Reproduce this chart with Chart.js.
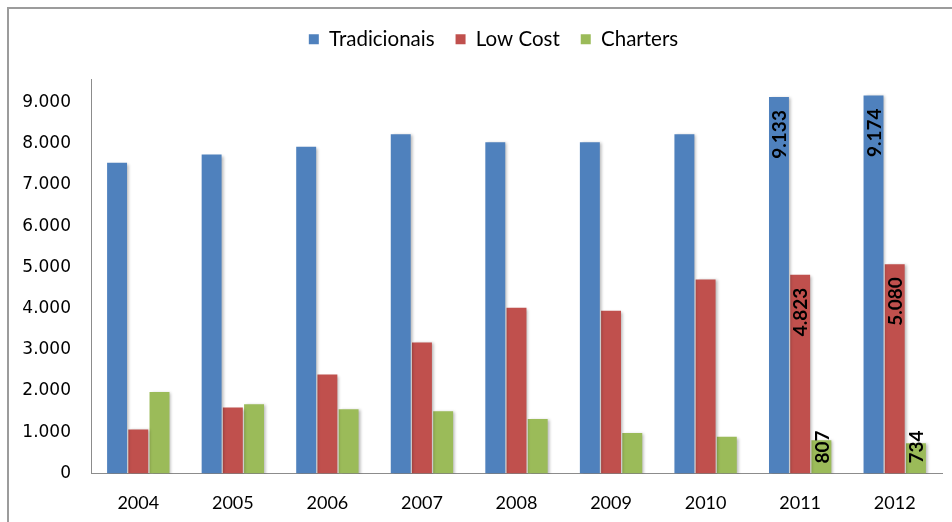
<!DOCTYPE html>
<html>
<head>
<meta charset="utf-8">
<script src="https://cdn.jsdelivr.net/npm/chart.js@4/dist/chart.umd.min.js"></script>
<style>
    html, body { margin: 0; padding: 0; background: #fff; }
    #wrap { position: relative; width: 952px; height: 522px; }
</style>
</head>
<body>
<div id="wrap"><canvas id="passChart" width="952" height="522"></canvas></div>
<script>
const years        = ['2004', '2005', '2006', '2007', '2008', '2009', '2010', '2011', '2012'];
const tradicionais = [7540, 7740, 7930, 8230, 8040, 8040, 8230, 9133, 9174];
const lowCost      = [1070, 1600, 2400, 3180, 4020, 3950, 4710, 4823, 5080];
const charters     = [1975, 1680, 1560, 1510, 1320, 980, 890, 807, 734];
const yTicks       = [0, 1000, 2000, 3000, 4000, 5000, 6000, 7000, 8000, 9000];
const labeledYears = ['2011', '2012'];

const fmt = v => String(Math.round(v)).replace(/\B(?=(\d{3})+(?!\d))/g, '.');

// grey frame on the top and left edges of the figure
const framePlugin = {
    id: 'frame',
    beforeDraw(chart) {
        const ctx = chart.ctx;
        ctx.save();
        ctx.lineWidth = 2;
        ctx.strokeStyle = '#9c9c9c';
        ctx.beginPath();
        ctx.moveTo(7, 8); ctx.lineTo(952, 8);
        ctx.moveTo(8, 7); ctx.lineTo(8, 522);
        ctx.stroke();
        ctx.restore();
    },
};

// legend: extra room underneath and centred over the plot, not the canvas
const legendTweak = {
    id: 'legendTweak',
    afterInit(chart) {
        const legend = chart.legend;
        const fit = legend.fit;
        legend.fit = function () {
            fit.call(this);
            this.height += 20;
        };
    },
    afterLayout(chart) {
        chart.legend.left += 45;
    },
};

// soft shadow to the right of every bar
const shadowPlugin = {
    id: 'barShadow',
    beforeDatasetsDraw(chart) {
        const ctx = chart.ctx;
        ctx.save();
        ctx.shadowColor = 'rgba(0,0,0,0.28)';
        ctx.shadowBlur = 3;
        ctx.shadowOffsetX = 2;
        ctx.shadowOffsetY = 1;
    },
    afterDatasetsDraw(chart) {
        chart.ctx.restore();
    },
};

// rotated value labels for the last two years
const valueLabels = {
    id: 'valueLabels',
    afterDatasetsDraw(chart) {
        const ctx = chart.ctx;
        const base = chart.scales.y.getPixelForValue(0);
        ctx.save();
        ctx.font = 'bold 19px Lato';
        ctx.fillStyle = '#000';
        ctx.textBaseline = 'middle';
        ctx.textAlign = 'right';
        chart.data.datasets.forEach((ds, di) => {
            const meta = chart.getDatasetMeta(di);
            meta.data.forEach((bar, i) => {
                if (!labeledYears.includes(years[i])) return;
                const text = fmt(ds.data[i]);
                const w = ctx.measureText(text).width;
                let top = bar.y + 13;
                if (top + w > base - 10) top = base - 10 - w;
                ctx.save();
                ctx.translate(bar.x + 1, top);
                ctx.rotate(-Math.PI / 2);
                ctx.fillText(text, 0, 0);
                ctx.restore();
            });
        });
        ctx.restore();
    },
};

const mkSet = (label, data, color) => ({
    label,
    data,
    backgroundColor: color,
    borderWidth: 0,
    categoryPercentage: 0.673,
    barPercentage: 0.94,
});

new Chart(document.getElementById('passChart').getContext('2d'), {
    type: 'bar',
    data: {
        labels: years,
        datasets: [
            mkSet('Tradicionais', tradicionais, '#4f81bd'),
            mkSet('Low Cost', lowCost, '#c0504d'),
            mkSet('Charters', charters, '#9bbb59'),
        ],
    },
    options: {
        responsive: false,
        animation: false,
        devicePixelRatio: 1,
        layout: { padding: { left: 0, right: 10, top: 8, bottom: 0 } },
        plugins: {
            tooltip: { enabled: false },
            legend: {
                position: 'top',
                labels: {
                    boxWidth: 10,
                    boxHeight: 10,
                    padding: 21,
                    color: '#000',
                    font: { family: 'Lato', size: 20.5 },
                },
            },
        },
        scales: {
            x: {
                grid: { display: false, drawTicks: false },
                border: { color: '#8c8c8c', width: 1 },
                ticks: { color: '#000', padding: 19, font: { family: 'Lato', size: 18 } },
                afterFit: s => { s.height = 48.5; },
            },
            y: {
                min: 0,
                max: 9560,
                grid: { display: false, drawTicks: false },
                border: { color: '#8c8c8c', width: 1 },
                ticks: {
                    autoSkip: false,
                    color: '#000',
                    padding: 20,
                    font: { family: 'DejaVu Sans', size: 17 },
                    callback: v => fmt(v),
                },
                afterBuildTicks: s => { s.ticks = yTicks.map(v => ({ value: v })); },
                afterFit: s => { s.width = 91; },
            },
        },
    },
    plugins: [framePlugin, legendTweak, shadowPlugin, valueLabels],
});
</script>
</body>
</html>
